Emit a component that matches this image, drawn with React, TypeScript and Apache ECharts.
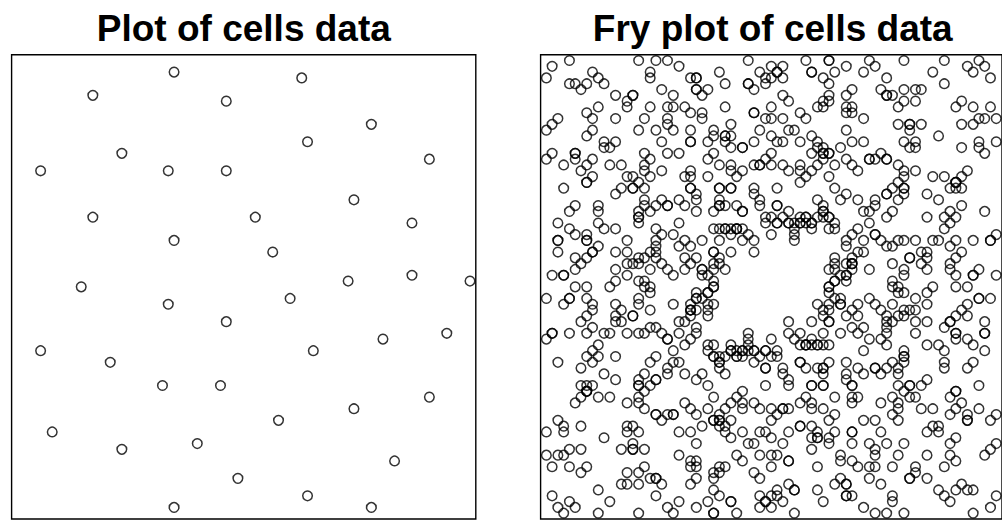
import React, { useEffect, useRef } from "react";
import * as echarts from "echarts";

// Cells data (unit square)
const cellsX = [0.35, 0.175, 0.4625, 0.2375, 0.0625, 0.3375, 0.4625, 0.175, 0.35, 0.15,
  0.625, 0.775, 0.6375, 0.9, 0.7375, 0.525, 0.8625, 0.5625, 0.725, 0.8625, 0.9875,
  0.3375, 0.4625, 0.0625, 0.2125, 0.325, 0.45, 0.0875, 0.2375, 0.4, 0.4875, 0.35,
  0.6, 0.8, 0.9375, 0.65, 0.9, 0.7375, 0.575, 0.825, 0.6375, 0.775];
const cellsY = [0.9625, 0.9125, 0.9, 0.7875, 0.75, 0.75, 0.75, 0.65, 0.6, 0.5,
  0.95, 0.85, 0.8125, 0.775, 0.6875, 0.65, 0.6375, 0.575, 0.5125, 0.525, 0.5125,
  0.4625, 0.425, 0.3625, 0.3375, 0.2875, 0.2875, 0.1875, 0.15, 0.1625, 0.0875, 0.025,
  0.475, 0.3875, 0.4, 0.3625, 0.2625, 0.2375, 0.2125, 0.125, 0.05, 0.025];

const titles = ["Plot of cells data", "Fry plot of cells data"];
const fryHalfWidth = 0.5;

export default function App() {
  const ref = useRef<HTMLDivElement>(null);
  useEffect(() => {
    document.body.style.margin = "0";
    const chart = echarts.init(ref.current!, null, { renderer: "svg" });
    const cells = cellsX.map((x, i) => [x, cellsY[i]]);
    // Fry points: all pairwise difference vectors, kept strictly inside the window
    const fry: number[][] = [];
    const eps = 1e-6;
    for (let i = 0; i < cellsX.length; i++) {
      for (let j = 0; j < cellsX.length; j++) {
        if (i === j) continue;
        const dx = cellsX[j] - cellsX[i];
        const dy = cellsY[j] - cellsY[i];
        if (Math.abs(dx) < fryHalfWidth - eps && Math.abs(dy) < fryHalfWidth - eps) {
          fry.push([dx, dy]);
        }
      }
    }
    const symbolStyle = {
      color: "rgba(0,0,0,0)",
      borderColor: "#000",
      borderWidth: 1.5,
    };
    const font = 'bold 37px "Liberation Sans", Arial, sans-serif';
    chart.setOption({
      animation: false,
      backgroundColor: "#fff",
      grid: [
        { left: 11.6, top: 54.7, width: 464.2, height: 464.3, show: true, borderColor: "#000", borderWidth: 1.4, backgroundColor: "transparent" },
        { left: 540.6, top: 54.7, width: 464.2, height: 464.3, show: true, borderColor: "#000", borderWidth: 1.4, backgroundColor: "transparent" },
      ],
      xAxis: [
        { type: "value", gridIndex: 0, min: 0, max: 1, show: false },
        { type: "value", gridIndex: 1, min: -fryHalfWidth, max: fryHalfWidth, show: false },
      ],
      yAxis: [
        { type: "value", gridIndex: 0, min: 0, max: 1, show: false },
        { type: "value", gridIndex: 1, min: -fryHalfWidth, max: fryHalfWidth, show: false },
      ],
      graphic: [
        { type: "text", x: 243.8, y: 28.5, style: { text: titles[0], font, fill: "#000", align: "center", verticalAlign: "middle" } },
        { type: "text", x: 772.7, y: 28.5, style: { text: titles[1], font, fill: "#000", align: "center", verticalAlign: "middle" } },
      ],
      series: [
        { type: "scatter", xAxisIndex: 0, yAxisIndex: 0, data: cells, symbol: "circle", symbolSize: 9.6, itemStyle: symbolStyle, clip: false, silent: true },
        { type: "scatter", xAxisIndex: 1, yAxisIndex: 1, data: fry, symbol: "circle", symbolSize: 9.6, itemStyle: symbolStyle, clip: false, silent: true },
      ],
    });
    return () => chart.dispose();
  }, []);
  return <div ref={ref} style={{ width: 1002, height: 520 }} />;
}
